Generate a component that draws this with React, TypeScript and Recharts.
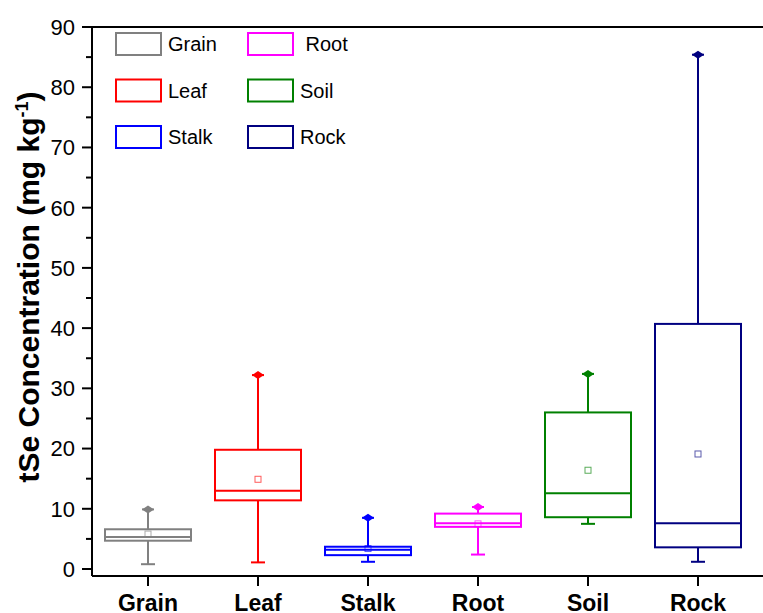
import React from 'react'
import { ComposedChart, Bar, XAxis, YAxis, Legend, ReferenceLine } from 'recharts'

// box plot statistics (mg kg-1)
const categories = ['Grain', 'Leaf', 'Stalk', 'Root', 'Soil', 'Rock']
const minValues = [0.8, 1.1, 1.2, 2.4, 7.5, 1.2]
const q1Values = [4.7, 11.4, 2.3, 7.0, 8.6, 3.6]
const medianValues = [5.3, 13.0, 3.2, 7.6, 12.6, 7.6]
const q3Values = [6.6, 19.8, 3.7, 9.2, 26.0, 40.7]
const maxValues = [9.9, 32.2, 8.5, 10.3, 32.4, 85.4]
const meanValues = [5.8, 14.9, 3.4, 7.5, 16.4, 19.1]
const yTicks = [0, 5, 10, 15, 20, 25, 30, 35, 40, 45, 50, 55, 60, 65, 70, 75, 80, 85, 90]
const legendLabels = ['Grain', 'Leaf', 'Stalk', ' Root', 'Soil', 'Rock']

const colors = ['#808080', '#FF0000', '#0000FF', '#FF00FF', '#008000', '#000080']
const FONT = '"Liberation Sans", Arial, sans-serif'

const data = categories.map((name, i) => ({
  name,
  min: minValues[i],
  q1: q1Values[i],
  median: medianValues[i],
  q3: q3Values[i],
  max: maxValues[i],
  mean: meanValues[i],
}))

function BoxShape(props: any) {
  const { x, y, width, height } = props
  const d = props.payload ?? props
  const color = colors[categories.indexOf(d.name)]
  const top = Math.min(y, y + height)
  const h = Math.abs(height)
  const ppu = h / (d.max - d.min)
  const yOf = (v: number) => top + (d.max - v) * ppu
  const cx = x + width / 2
  const yMax = yOf(d.max)
  const yMin = yOf(d.min)
  const yQ3 = yOf(d.q3)
  const yQ1 = yOf(d.q1)
  const yMed = yOf(d.median)
  const yMean = yOf(d.mean)
  return (
    <g>
      <line x1={cx} x2={cx} y1={yMax} y2={yQ3} stroke={color} strokeWidth={2} />
      <line x1={cx} x2={cx} y1={yQ1} y2={yMin} stroke={color} strokeWidth={2} />
      <line x1={cx - 7} x2={cx + 7} y1={yMin} y2={yMin} stroke={color} strokeWidth={2} />
      <line x1={cx - 6} x2={cx + 6} y1={yMax} y2={yMax} stroke={color} strokeWidth={2} />
      <polygon
        points={`${cx - 6},${yMax} ${cx},${yMax - 4} ${cx + 6},${yMax} ${cx},${yMax + 4}`}
        fill={color}
      />
      <rect x={x + 1} y={yQ3} width={width - 2} height={yQ1 - yQ3} fill="none" stroke={color} strokeWidth={2} />
      <line x1={x + 1} x2={x + width - 1} y1={yMed} y2={yMed} stroke={color} strokeWidth={2} />
      <rect x={cx - 3} y={yMean - 3} width={6} height={6} fill="none" stroke={color} strokeOpacity={0.65} strokeWidth={1} />
    </g>
  )
}

function YTick(props: any) {
  const { x, y, payload } = props
  const major = payload.value % 10 === 0
  return (
    <g>
      <line x1={x - (major ? 10 : 6)} x2={x} y1={y} y2={y} stroke="#000" strokeWidth={2} />
      {major && (
        <text x={x - 17} y={y} dy="0.36em" textAnchor="end" fontSize={22} fill="#000" fontFamily={FONT}>
          {payload.value}
        </text>
      )}
    </g>
  )
}

function YLabel() {
  const cx = 39
  const cy = 287
  return (
    <text
      x={cx}
      y={cy}
      transform={`rotate(-90, ${cx}, ${cy})`}
      textAnchor="middle"
      fontSize={30}
      fontWeight="bold"
      fill="#000"
      fontFamily={FONT}
    >
      tSe Concentration (mg kg
      <tspan dy={-11} fontSize={18}>-1</tspan>
      <tspan dy={11}>)</tspan>
    </text>
  )
}

function LegendBoxes() {
  return (
    <svg width={360} height={160} style={{ display: 'block', overflow: 'visible' }}>
      {legendLabels.map((label, i) => {
        const col = Math.floor(i / 3)
        const row = i % 3
        const rx = 116 + col * 132
        const ry = 33 + row * 46.5
        return (
          <g key={label}>
            <rect x={rx} y={ry} width={45} height={22} fill="none" stroke={colors[i]} strokeWidth={2} />
            <text
              x={rx + 52}
              y={ry + 18}
              fontSize={20}
              fill="#000"
              fontFamily={FONT}
              style={{ whiteSpace: 'pre' }}
            >
              {label}
            </text>
          </g>
        )
      })}
    </svg>
  )
}

export default function App() {
  return (
    <div style={{ position: 'absolute', left: 0, top: 0, fontFamily: FONT, background: '#fff' }}>
      <ComposedChart
        width={763}
        height={613}
        data={data}
        margin={{ top: 27, right: 0, bottom: 0, left: 0 }}
        barSize={88}
      >
        <XAxis
          dataKey="name"
          height={37}
          padding={{ left: 1, right: 10 }}
          axisLine={{ stroke: '#000', strokeWidth: 2 }}
          tickLine={{ stroke: '#000', strokeWidth: 2 }}
          tickSize={10}
          tickMargin={9}
          tick={{ fontSize: 23, fontWeight: 'bold', fill: '#000' }}
          interval={0}
        />
        <YAxis
          width={92}
          domain={[-1.16, 90]}
          allowDataOverflow
          ticks={yTicks}
          interval={0}
          tickSize={0}
          tickMargin={0}
          tickLine={false}
          axisLine={{ stroke: '#000', strokeWidth: 2 }}
          tick={<YTick />}
          label={<YLabel />}
        />
        <ReferenceLine y={90} stroke="#000" strokeWidth={2} />
        <Legend
          verticalAlign="middle"
          align="center"
          layout="horizontal"
          wrapperStyle={{ left: 0, top: 0, width: 360, height: 160 }}
          content={() => <LegendBoxes />}
        />
        <Bar dataKey={(d: any) => [d.min, d.max]} shape={BoxShape} isAnimationActive={false} />
      </ComposedChart>
    </div>
  )
}
